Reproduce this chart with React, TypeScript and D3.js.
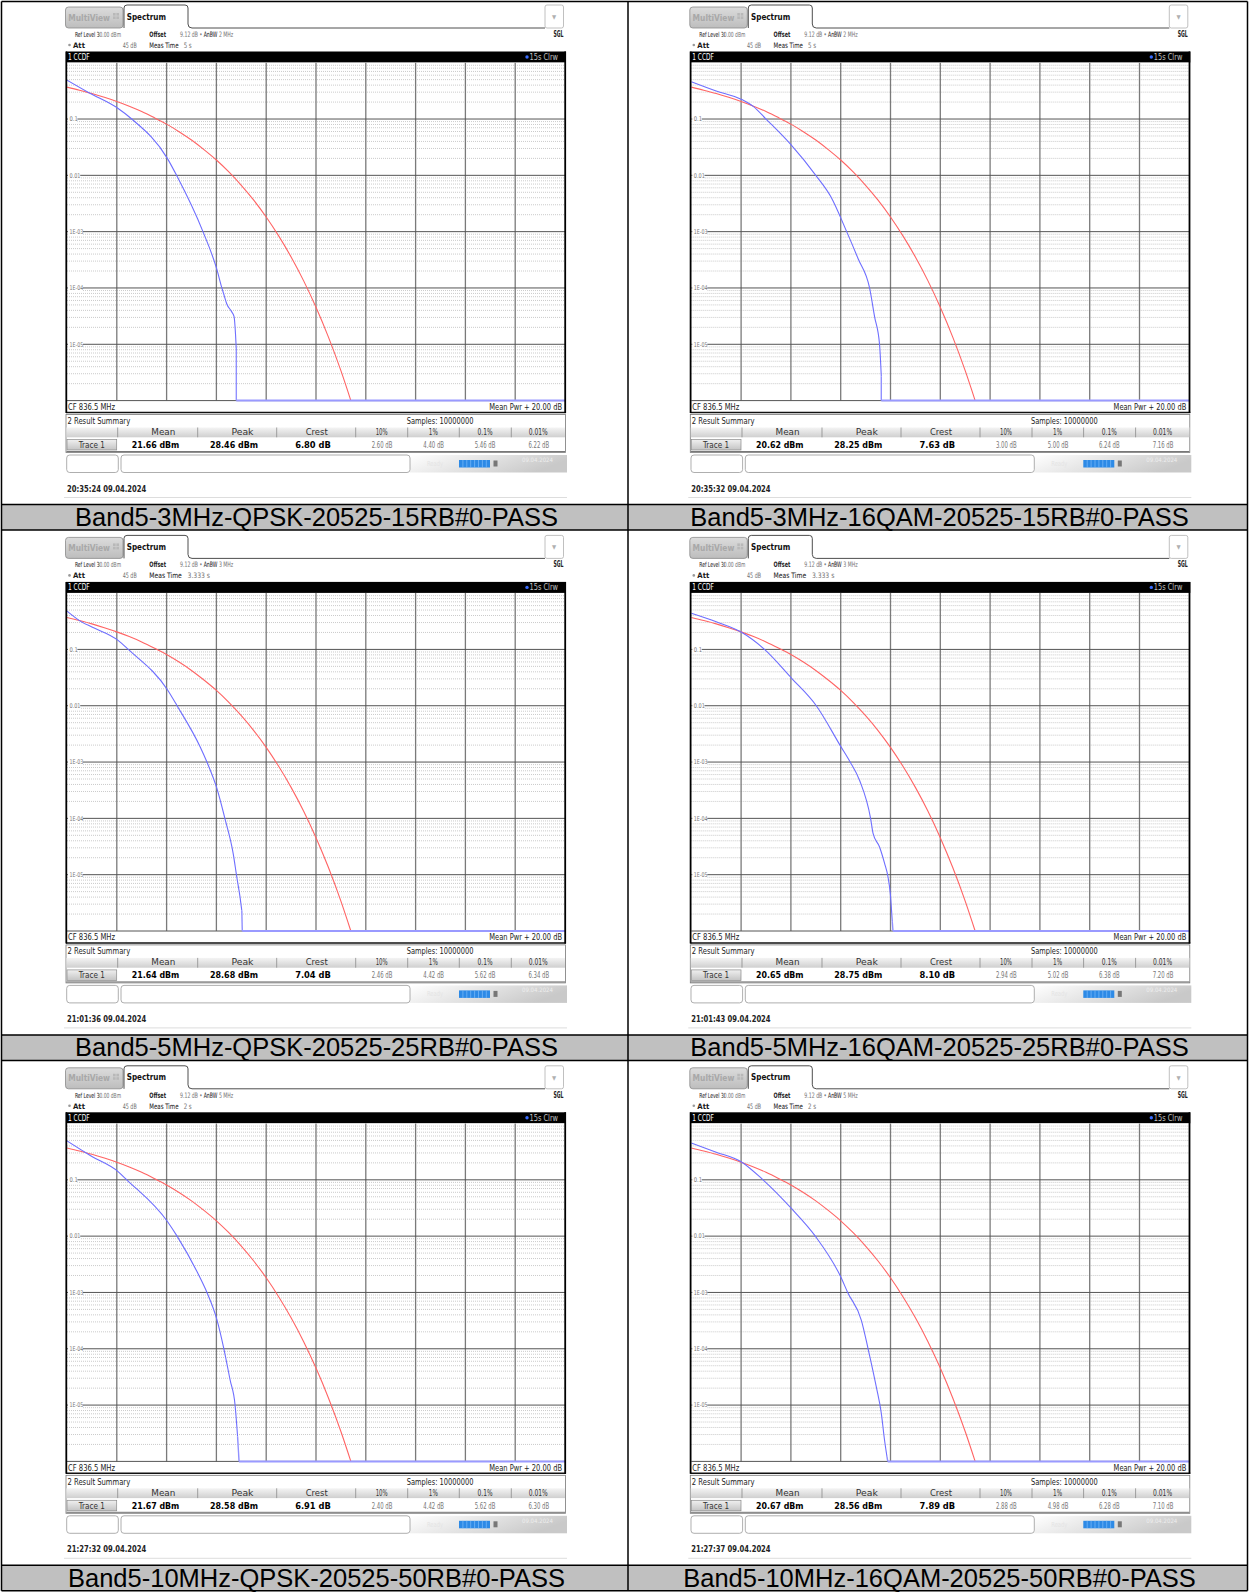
import React from "react";
import * as d3 from "d3";

// ---------------- DATA ----------------
const captions = [
  "Band5-3MHz-QPSK-20525-15RB#0-PASS",
  "Band5-3MHz-16QAM-20525-15RB#0-PASS",
  "Band5-5MHz-QPSK-20525-25RB#0-PASS",
  "Band5-5MHz-16QAM-20525-25RB#0-PASS",
  "Band5-10MHz-QPSK-20525-50RB#0-PASS",
  "Band5-10MHz-16QAM-20525-50RB#0-PASS",
];
const anbwValues = ["2 MHz", "2 MHz", "3 MHz", "3 MHz", "5 MHz", "5 MHz"];
const measTimes = ["5 s", "5 s", "3.333 s", "3.333 s", "2 s", "2 s"];
const meanValues = ["21.66 dBm", "20.62 dBm", "21.64 dBm", "20.65 dBm", "21.67 dBm", "20.67 dBm"];
const peakValues = ["28.46 dBm", "28.25 dBm", "28.68 dBm", "28.75 dBm", "28.58 dBm", "28.56 dBm"];
const crestDb = [6.8, 7.63, 7.04, 8.1, 6.91, 7.89];
const pct10 = [2.6, 3.0, 2.46, 2.94, 2.4, 2.88];
const pct1 = [4.4, 5.0, 4.42, 5.02, 4.42, 4.98];
const pct01 = [5.46, 6.24, 5.62, 6.38, 5.62, 6.28];
const pct001 = [6.22, 7.16, 6.34, 7.2, 6.3, 7.1];
const timestamps = ["20:35:24", "20:35:32", "21:01:36", "21:01:43", "21:27:32", "21:27:37"];
const dateText = "09.04.2024";
const summaryHeaders = ["Mean", "Peak", "Crest", "10%", "1%", "0.1%", "0.01%"];
const yTickValues = [0.1, 0.01, 1e-3, 1e-4, 1e-5];
const yTickLabels = ["0.1", "0.01", "1E-03", "1E-04", "1E-05"];
const xDomain = [0, 20];
const yDomain = [1, 1e-6];

// Gaussian reference trace (red): [dB above mean, probability]
const gaussianRef: [number, number][] = [
  [0, 0.368], [0.5, 0.325], [1, 0.284], [1.5, 0.243], [2, 0.205], [2.5, 0.169],
  [3, 0.136], [3.5, 0.106], [4, 0.0811], [4.5, 0.0596], [5, 0.0423], [5.5, 0.0286],
  [6, 0.0187], [6.5, 0.0115], [7, 0.00666], [7.5, 0.00362], [8, 0.00182], [8.5, 8.4e-4],
  [9, 3.55e-4], [9.5, 1.35e-4], [10, 4.54e-5], [10.5, 1.34e-5], [11, 3.4e-6], [11.4, 1.0e-6],
];

// Measured CCDF traces (blue)
const blue1: [number, number][] = [
  [0, 0.49], [0.9, 0.29], [2.04, 0.155], [2.6, 0.1], [4.03, 0.02], [4.4, 0.01],
  [5.46, 0.001], [6.01, 2.2e-4], [6.22, 1e-4], [6.31, 7.4e-5], [6.41, 5.3e-5],
  [6.61, 3.8e-5], [6.71, 3.1e-5], [6.77, 1.45e-5], [6.8, 7.9e-6],
];
const blue2: [number, number][] = [
  [0, 0.46], [1.0, 0.315], [2.0, 0.225], [2.5, 0.166], [3.0, 0.1], [4.0, 0.035], [5.0, 0.01],
  [5.6, 0.0042], [6.24, 0.001], [6.7, 3.3e-4], [7.16, 1e-4], [7.36, 3.1e-5],
  [7.56, 1e-5], [7.63, 2.7e-6],
];
const blue3: [number, number][] = [
  [0, 0.48], [0.6, 0.305], [1.0, 0.25], [2.05, 0.145], [2.46, 0.1], [4.04, 0.019], [4.42, 0.01],
  [5.35, 0.00185], [5.62, 0.001], [6.02, 3.4e-4], [6.34, 1e-4], [6.68, 2.3e-5], [6.82, 9e-6],
  [6.95, 4e-6], [7.02, 2.3e-6],
];
const blue4: [number, number][] = [
  [0, 0.44], [1.0, 0.31], [2.0, 0.203], [2.94, 0.1], [4.02, 0.031], [5.02, 0.01],
  [6.0, 0.0019], [6.38, 0.001], [6.76, 4.7e-4], [7.2, 1e-4], [7.3, 5.4e-5], [7.56, 3.1e-5],
  [7.76, 1.6e-5], [7.9, 9.1e-6], [7.99, 4.7e-6], [8.07, 1.5e-6],
];
const blue5: [number, number][] = [
  [0, 0.49], [0.74, 0.305], [1.0, 0.26], [2.05, 0.14], [2.4, 0.1], [4.04, 0.018], [4.42, 0.01],
  [5.35, 0.0018], [5.62, 0.001], [6.02, 3.3e-4], [6.3, 1e-4], [6.55, 2.8e-5], [6.75, 1e-5],
  [6.85, 2.8e-6],
];
const blue6: [number, number][] = [
  [0, 0.45], [1.0, 0.31], [2.0, 0.21], [2.88, 0.1], [4.02, 0.031], [4.98, 0.01],
  [6.0, 0.0019], [6.28, 0.001], [6.83, 3.2e-4], [7.1, 1e-4], [7.43, 2.1e-5], [7.63, 7.2e-6],
  [7.76, 2.4e-6], [7.86, 1.2e-6],
];
const blueSeries = [blue1, blue2, blue3, blue4, blue5, blue6];

// ---------------- LAYOUT ----------------
const W = 1249;
const H = 1595;
const COL_DX = 624.3;
const ROW_DY = 530.4;
const PL = 67, PR = 565, PT = 62.7, PB = 400.6;
const xScale = d3.scaleLinear().domain(xDomain).range([PL, PR]);
const yScale = d3.scaleLog().domain(yDomain).range([PT, PB]);

const UI = "'Liberation Sans Narrow','Arial Narrow','DejaVu Sans Condensed','Liberation Sans',sans-serif";
const CAP = "'Liberation Sans',Arial,Helvetica,sans-serif";
const LAB = "#1a1a1a";
const VAL = "#707070";

function T(p: any) {
  const { x, y, s, size = 8, weight = 400, fill = "#333", anchor = "start", len, pre } = p;
  return (
    <text
      x={x}
      y={y}
      fontSize={size}
      fontWeight={weight}
      fill={fill}
      textAnchor={anchor}
      fontFamily={UI}
      textLength={len}
      lengthAdjust={len ? "spacingAndGlyphs" : undefined}
      style={pre ? { whiteSpace: "pre" } : undefined}
    >
      {s}
    </text>
  );
}

// hard-stop gradient used to colour label/value parts of a single text run
function SplitGrad({ id, x1, x2, stops }: { id: string; x1: number; x2: number; stops: [number, string][] }) {
  const out: any[] = [];
  stops.forEach(([at, col], k) => {
    const f = (at - x1) / (x2 - x1);
    const next = k + 1 < stops.length ? (stops[k + 1][0] - x1) / (x2 - x1) : 1;
    out.push(<stop key={k + "a"} offset={Math.max(0, f)} stopColor={col} />);
    out.push(<stop key={k + "b"} offset={Math.min(1, next)} stopColor={col} />);
  });
  return (
    <linearGradient id={id} gradientUnits="userSpaceOnUse" x1={x1} y1={0} x2={x2} y2={0}>
      {out}
    </linearGradient>
  );
}

const hdrCenters = [163.3, 242.5, 316.7, 381.7, 433.3, 485, 538.3];
const hdrLens = [24, 22, 22, 12, 9, 15, 19];
const hdrSeps = [117.7, 197.7, 276.7, 355.7, 407.7, 459.3, 511.3];
const valCenters = [155.5, 234, 313, 382, 433.7, 485, 538.8];

function Panel({ i, dx, dy }: { i: number; dx: number; dy: number }) {
  const blue = blueSeries[i];
  const crest = crestDb[i];
  const curveLine = d3
    .line<[number, number]>()
    .x((d) => xScale(d[0]))
    .y((d) => yScale(d[1]))
    .curve(d3.curveMonotoneX);
  const linLine = d3
    .line<[number, number]>()
    .x((d) => xScale(d[0]))
    .y((d) => yScale(d[1]));
  const bluePath = curveLine(blue) || "";
  const last = blue[blue.length - 1];
  const tailPath = linLine([last, [crest, yDomain[1]]]) || "";
  const floorPath = linLine([[crest, yDomain[1]], [xDomain[1], yDomain[1]]]) || "";
  const redPath = curveLine(gaussianRef) || "";

  const vLines = d3.range(xDomain[0] + 2, xDomain[1], 2);
  const minor: number[] = [];
  for (let k = -6; k <= -1; k++) for (let m = 2; m <= 9; m++) minor.push(m * Math.pow(10, k));

  const pcts = [pct10[i], pct1[i], pct01[i], pct001[i]].map((v) => `${v.toFixed(2)} dB`);
  const clipId = `clip${i}`;
  const longTime = measTimes[i].length > 3;

  return (
    <g transform={`translate(${dx},${dy})`}>
      <defs>
        <clipPath id={clipId}>
          <rect x={PL} y={PT} width={PR - PL} height={PB - PT + 1} />
        </clipPath>
      </defs>
      {/* tabs */}
      <rect x={65.5} y={7} width={57.5} height={21} rx={3} fill="url(#tabGrad)" stroke="#8a8a8a" strokeWidth={0.8} />
      <T x={68.3} y={20.5} s="MultiView" size={8.5} weight={700} fill="#a8a8a8" len={41.7} />
      <g fill="#b8b8b8">
        <rect x={113} y={13} width={2.6} height={2.6} />
        <rect x={116.4} y={13} width={2.6} height={2.6} />
        <rect x={113} y={16.4} width={2.6} height={2.6} />
        <rect x={116.4} y={16.4} width={2.6} height={2.6} />
      </g>
      <path d="M124,28 V8 Q124,5 127,5 H185 Q188,5 188,8 V24 Q188,28 192,28 H545" fill="#fff" stroke="#3a3a3a" strokeWidth={0.9} />
      <T x={126.7} y={19.5} s="Spectrum" size={8.5} weight={700} fill="#111" len={39.3} />
      <rect x={545} y={5} width={18.5} height={23} rx={2} fill="#fff" stroke="#b0b0b0" strokeWidth={0.8} />
      <text x={554.2} y={19} fontSize={6} fill="#b0b0b0" textAnchor="middle" fontFamily={UI}>▼</text>

      {/* info rows */}
      <T x={75} y={37} s="Ref Level 30.00 dBm" size={7} fill="url(#gRef)" len={46} />
      <T x={149.3} y={37} s="Offset" size={7.5} weight={600} fill={LAB} len={16.7} />
      <T x={180} y={37} s={`9.12 dB \u2022 AnBW ${anbwValues[i]}`} size={7.5} fill="url(#gAnbw)" len={53.3} />
      <T x={563.5} y={37} s="SGL" weight={700} fill="#222" anchor="end" len={10} />
      <circle cx={69.5} cy={45} r={1.3} fill="#999" />
      <T x={73} y={47.8} s="Att" size={7.5} weight={600} fill={LAB} len={12} />
      <T x={122.7} y={47.8} s="45 dB" size={7.5} fill={VAL} len={14} />
      <T x={149.3} y={47.8} s={`Meas Time   ${measTimes[i]}`} size={7.5} fill="url(#gMeas)" len={longTime ? 60.7 : 42.4} pre />

      {/* black title bar */}
      <rect x={66} y={51.5} width={500} height={11} fill="#000" />
      <T x={68} y={60} s="1 CCDF" fill="#fff" size={8} len={21.6} />
      <circle cx={527} cy={57} r={1.7} fill="#3a6cff" />
      <T x={529.5} y={60} s="15s Clrw" fill="#c0c0c0" size={8} len={28.5} />

      {/* plot area */}
      <rect x={PL} y={PT} width={PR - PL} height={PB - PT} fill="#fff" />
      {minor.map((v, k) => (
        <line key={"m" + k} x1={PL} x2={PR} y1={yScale(v)} y2={yScale(v)} stroke="#b4b4b4" strokeWidth={0.7} strokeDasharray="1,1" />
      ))}
      {vLines.map((v) => (
        <line key={"v" + v} x1={xScale(v)} x2={xScale(v)} y1={PT} y2={PB} stroke="#7a7a7a" strokeWidth={1.3} />
      ))}
      {yTickValues.map((v) => (
        <line key={"h" + v} x1={PL} x2={PR} y1={yScale(v)} y2={yScale(v)} stroke="#555" strokeWidth={1} />
      ))}
      {yTickValues.map((v, k) => (
        <g key={"t" + v}>
          <rect x={PL + 1} y={yScale(v) - 3.5} width={yTickLabels[k].length * 2.8 + 1} height={7} fill="#fff" />
          <T x={PL + 2.5} y={yScale(v) + 2.3} s={yTickLabels[k]} size={6.5} fill="#777" len={yTickLabels[k].length * 2.75} />
        </g>
      ))}
      <line x1={PL} x2={PR} y1={PB} y2={PB} stroke="#555" strokeWidth={1} />
      <g clipPath={`url(#${clipId})`}>
        <path d={redPath} fill="none" stroke="#ff6464" strokeWidth={1.1} />
        <path d={bluePath} fill="none" stroke="#6e6eff" strokeWidth={1.1} />
        <path d={tailPath} fill="none" stroke="#9090ff" strokeWidth={1.4} />
      </g>
      <path d={floorPath} fill="none" stroke="#9a9aff" strokeWidth={2} />

      {/* CF row */}
      <T x={68} y={410} s="CF 836.5 MHz" size={8.5} fill="#222" len={47} />
      <T x={562} y={410} s="Mean Pwr + 20.00 dB" size={8.5} fill="#222" anchor="end" len={72.7} />
      <line x1={66} x2={566} y1={412.5} y2={412.5} stroke="#111" strokeWidth={1.5} />
      <line x1={66.3} x2={66.3} y1={51.5} y2={413} stroke="#000" strokeWidth={1.8} />
      <line x1={565.2} x2={565.2} y1={51.5} y2={413} stroke="#000" strokeWidth={1.8} />

      {/* result summary */}
      <rect x={66} y={414.5} width={499.5} height={38} fill="#fff" stroke="#777" strokeWidth={0.8} />
      <T x={67.5} y={424} s="2 Result Summary" size={8.5} fill="#222" len={62.7} />
      <T x={406.7} y={424} s="Samples: 10000000" size={8.5} fill="#222" len={66.7} />
      <rect x={66.5} y={427.5} width={498.5} height={9.8} fill="url(#hdrGrad)" />
      {hdrSeps.map((x) => (
        <line key={"s" + x} x1={x} x2={x} y1={427.5} y2={437.3} stroke="#8a8a8a" strokeWidth={0.8} />
      ))}
      {summaryHeaders.map((h, k) => (
        <T key={h} x={hdrCenters[k]} y={435} s={h} size={8.5} fill="#333" anchor="middle" len={hdrLens[k]} />
      ))}
      <rect x={67} y={439.5} width={49.7} height={10.5} fill="url(#btnGrad)" stroke="#8a8a8a" strokeWidth={0.7} />
      <T x={91.8} y={447.8} s="Trace 1" size={8.5} fill="#333" anchor="middle" len={26} />
      <line x1={66.5} x2={565} y1={451.5} y2={451.5} stroke="#555" strokeWidth={0.8} />
      <T x={valCenters[0]} y={448} s={meanValues[i]} size={9.5} weight={700} fill="#000" anchor="middle" len={47.6} />
      <T x={valCenters[1]} y={448} s={peakValues[i]} size={9.5} weight={700} fill="#000" anchor="middle" len={48} />
      <T x={valCenters[2]} y={448} s={`${crest.toFixed(2)} dB`} size={9.5} weight={700} fill="#000" anchor="middle" len={35.7} />
      {pcts.map((p, k) => (
        <T key={"p" + k} x={valCenters[3 + k]} y={448} s={p} size={8} fill="#777" anchor="middle" len={20.7} />
      ))}

      {/* status bar */}
      <rect x={410} y={455} width={157} height={17.5} fill="url(#statusGrad)" />
      <rect x={66.7} y={455} width={51.6} height={17.5} rx={3} fill="#fff" stroke="#9a9a9a" strokeWidth={0.8} />
      <rect x={121} y={455} width={289} height={17.5} rx={3} fill="#fff" stroke="#9a9a9a" strokeWidth={0.8} />
      <T x={427} y={466} s="Ready" size={7} fill="#e4e4e4" len={16} />
      <rect x={459} y={460} width={31} height={7.5} fill="#2d8ae6" />
      {d3.range(1, 8).map((k) => (
        <line key={"b" + k} x1={459 + k * 3.9} x2={459 + k * 3.9} y1={460} y2={467.5} stroke="#8cc4ff" strokeWidth={0.6} />
      ))}
      <rect x={493.5} y={460.5} width={4} height={6} fill="#777" />
      <T x={522} y={462} s={dateText} size={6} fill="#eeeeee" len={31} />
      <line x1={64} x2={567} y1={497.5} y2={497.5} stroke="#d4d4d4" strokeWidth={0.8} />

      {/* timestamp */}
      <T x={67} y={491.5} s={`${timestamps[i]}  ${dateText}`} size={8} weight={700} fill="#222" len={79.3} />
    </g>
  );
}

export default function App() {
  const rows = [0, 1, 2];
  const capTop = (r: number) => 504.5 + r * ROW_DY;
  return (
    <svg
      width={W}
      height={H}
      viewBox={`0 0 ${W} ${H}`}
      style={{ position: "absolute", left: 0, top: 0, display: "block", background: "#fff" }}
    >
      <defs>
        <linearGradient id="hdrGrad" x1="0" y1="0" x2="0" y2="1">
          <stop offset="0" stopColor="#f4f4f4" />
          <stop offset="1" stopColor="#cfcfcf" />
        </linearGradient>
        <linearGradient id="btnGrad" x1="0" y1="0" x2="0" y2="1">
          <stop offset="0" stopColor="#f0f0f0" />
          <stop offset="1" stopColor="#c4c4c4" />
        </linearGradient>
        <linearGradient id="tabGrad" x1="0" y1="0" x2="0" y2="1">
          <stop offset="0" stopColor="#dcdcdc" />
          <stop offset="1" stopColor="#bdbdbd" />
        </linearGradient>
        <linearGradient id="statusGrad" x1="0" y1="0" x2="1" y2="0.3">
          <stop offset="0" stopColor="#ffffff" />
          <stop offset="1" stopColor="#c9c9c9" />
        </linearGradient>
        <SplitGrad id="gRef" x1={75} x2={121} stops={[[75, LAB], [100.5, VAL]]} />
        <SplitGrad id="gAnbw" x1={180} x2={233.3} stops={[[180, VAL], [201.5, LAB], [218, VAL]]} />
        <SplitGrad id="gMeas" x1={149.3} x2={210.5} stops={[[149.3, LAB], [182.5, VAL]]} />
      </defs>
      <rect x={0} y={0} width={W} height={H} fill="#fff" />
      {captions.map((c, i) => (
        <Panel key={c} i={i} dx={(i % 2) * COL_DX} dy={Math.floor(i / 2) * ROW_DY} />
      ))}
      {rows.map((r) => (
        <rect key={"cap" + r} x={1.5} y={capTop(r)} width={1246} height={25.5} fill="#c0c0c0" />
      ))}
      {captions.map((c, i) => {
        const r = Math.floor(i / 2);
        const cx = i % 2 === 0 ? 316.5 : 939.5;
        return (
          <text key={"ct" + i} x={cx} y={capTop(r) + 21.5} fontSize={25.5} fontFamily={CAP} fill="#000" textAnchor="middle">
            {c}
          </text>
        );
      })}
      {/* table borders */}
      <line x1={1.5} x2={1247.5} y1={1.5} y2={1.5} stroke="#000" strokeWidth={1.5} />
      {rows.map((r) => (
        <g key={"bl" + r}>
          <line x1={1.5} x2={1247.5} y1={capTop(r)} y2={capTop(r)} stroke="#000" strokeWidth={1.5} />
          <line x1={1.5} x2={1247.5} y1={capTop(r) + 25.5} y2={capTop(r) + 25.5} stroke="#000" strokeWidth={1.5} />
        </g>
      ))}
      <line x1={1.5} x2={1.5} y1={1.5} y2={capTop(2) + 25.5} stroke="#000" strokeWidth={1.5} />
      <line x1={628} x2={628} y1={1.5} y2={capTop(2) + 25.5} stroke="#000" strokeWidth={1.5} />
      <line x1={1247.5} x2={1247.5} y1={1.5} y2={capTop(2) + 25.5} stroke="#000" strokeWidth={1.5} />
    </svg>
  );
}
